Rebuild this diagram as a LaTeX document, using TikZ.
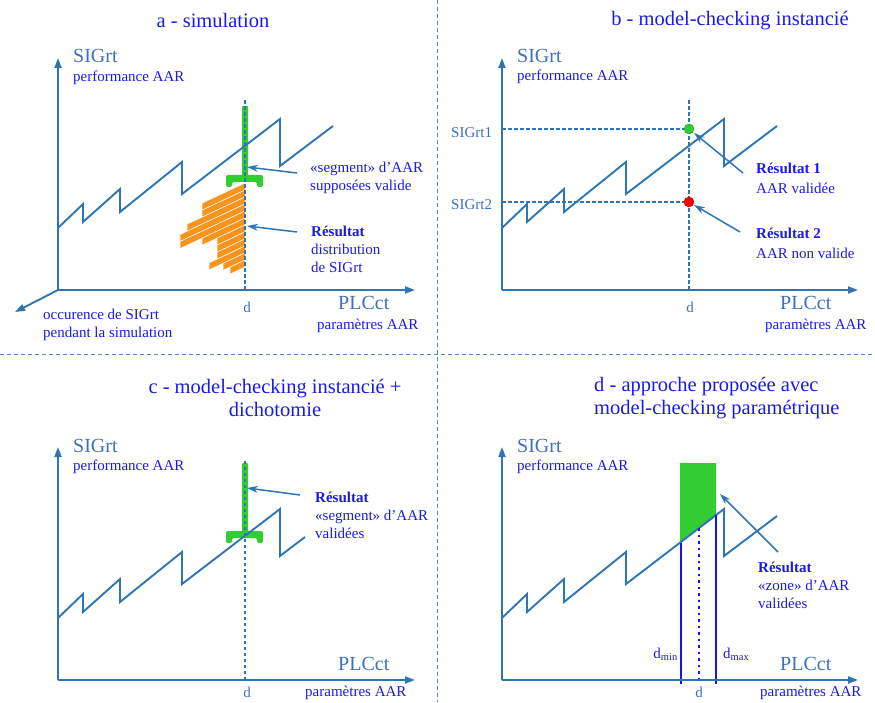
\documentclass[tikz,border=0pt]{standalone}
\usepackage{fontspec}
\setmainfont{Liberation Serif}
\usetikzlibrary{arrows.meta}
\definecolor{axisblue}{RGB}{46,117,182}
\definecolor{labelblue}{RGB}{62,112,190}
\definecolor{textblue}{RGB}{25,25,235}
\definecolor{sepblue}{RGB}{80,140,210}
\definecolor{okgreen}{RGB}{50,205,50}
\definecolor{historange}{RGB}{247,148,29}
\definecolor{dblue}{RGB}{20,20,245}
\tikzset{
  axis/.style={axisblue, line width=1.9pt, -{Triangle[length=10pt,width=7pt]}},
  curve/.style={axisblue, line width=1.9pt},
  guide/.style={axisblue, line width=1.2pt, dash pattern=on 3.5pt off 2.5pt},
  sep/.style={sepblue, line width=1pt, dash pattern=on 4pt off 3pt},
  callout/.style={axisblue, line width=1.5pt, -{Stealth[length=11pt,width=7pt]}},
  big/.style={labelblue, font=\fontsize{20}{22}\selectfont, inner sep=0pt},
  small/.style={textblue, font=\fontsize{15}{18}\selectfont, inner sep=0pt, align=left},
  tick/.style={labelblue, font=\fontsize{15}{17}\selectfont, inner sep=0pt},
  title/.style={textblue, font=\fontsize{20.5}{22.5}\selectfont, inner sep=0pt},
  dbound/.style={dblue, line width=2pt},
}
\begin{document}
\begin{tikzpicture}[x=1pt,y=1pt]
\useasboundingbox (0,0) rectangle (875,702);
% separators
\coordinate (vtop) at (437,702);
\coordinate (vbot) at (437,0);
\coordinate (hleft) at (0,347);
\coordinate (hright) at (875,347);
\draw[sep] (vtop) -- (vbot);
\draw[sep] (hleft) -- (hright);
% a - simulation
\node[title] (titA) at (213,682) {a - simulation};
\scope[shift={(58,412)}]
\coordinate (oA) at (0,0);
\coordinate (yA) at (0,232);
\coordinate (xA) at (357,0);
\coordinate (zA) at (-43,-22);
\foreach \k/\L in {0/43,1/43,2/58,3/65,4/65,5/43,6/28,7/28,8/28,9/36,10/22,11/15}
  \fill[historange, draw=white, line width=0.5pt] (187,107-7*\k) -- ++(0,-7) -- ++(-\L,-0.47*\L) -- ++(0,7) -- cycle;
\fill[okgreen, rounded corners=1pt] (184,112) rectangle (190,184);
\fill[okgreen, rounded corners=2pt] (168,115) -- (205,115) -- (205,103) -- (199,103) -- (199,108)
   -- (174,108) -- (174,103) -- (168,103) -- cycle;
\draw[curve] (0,62) -- (25,86) -- (25,68) -- (62,101) -- (62,78) -- (124,128) -- (124,96)
   -- (222,171) -- (222,124) -- (275,164);
\draw[guide] (187,0) -- (187,190);
\draw[axis] (oA) -- (yA);
\draw[axis] (oA) -- (xA);
\draw[axis] (oA) -- (zA);
\node[big, anchor=west] (sigA) at (15,234) {SIGrt};
\node[small, anchor=west] (perfA) at (15,212) {performance AAR};
\node[big, anchor=west] (plcA) at (280,-13) {PLCct};
\node[small, anchor=west] (parA) at (259,-36) {paramètres AAR};
\node[tick] (dA) at (189,-17) {d};
\node[small, anchor=west] (occA) at (-15,-34.5) {occurence de SIGrt\\pendant la simulation};
\node[small, anchor=west] (segA) at (252,112.5) {«segment» d’AAR\\supposées valide};
\node[small, anchor=west] (resA) at (253,41) {\textbf{Résultat}\\distribution\\de SIGrt};
\coordinate (segTail) at (239,117);
\coordinate (segTip) at (189,123);
\coordinate (resTail) at (239,58);
\coordinate (resTip) at (189,64);
\draw[callout] (segTail) -- (segTip);
\draw[callout] (resTail) -- (resTip);
\endscope
% b - model-checking instancie
\node[title] (titB) at (730,681) {b - model-checking instancié};
\scope[shift={(502,412)}]
\coordinate (oB) at (0,0);
\coordinate (yB) at (0,232);
\coordinate (xB) at (356,0);
\draw[curve] (0,62) -- (25,86) -- (25,68) -- (62,101) -- (62,78) -- (124,128) -- (124,96)
   -- (222,171) -- (222,124) -- (275,164);
\draw[guide] (187,0) -- (187,190);
\draw[guide] (0,161) -- (187,161);
\draw[guide] (0,88) -- (187,88);
\draw[axis] (oB) -- (yB);
\draw[axis] (oB) -- (xB);
\node[circle, fill=okgreen, draw=okgreen!75!black, line width=0.4pt, minimum size=10pt, inner sep=0pt] (ok) at (187,161) {};
\node[circle, fill=red, draw=red!75!black, line width=0.4pt, minimum size=10pt, inner sep=0pt] (ko) at (187,88) {};
\node[tick, anchor=west] (sig1) at (-51,157) {SIGrt1};
\node[tick, anchor=west] (sig2) at (-51,85) {SIGrt2};
\node[big, anchor=west] (sigB) at (15,234) {SIGrt};
\node[small, anchor=west] (perfB) at (15,213) {performance AAR};
\node[big, anchor=west] (plcB) at (278,-13) {PLCct};
\node[small, anchor=west] (parB) at (263,-36) {paramètres AAR};
\node[tick] (dB) at (188,-17) {d};
\node[small, anchor=west] (res1) at (254,112) {\textbf{Résultat 1}\\[2pt]AAR validée};
\node[small, anchor=west] (res2) at (254,47) {\textbf{Résultat 2}\\[2pt]AAR non valide};
\coordinate (okTail) at (241,117);
\coordinate (okTip) at (192,157);
\coordinate (koTail) at (238,58);
\coordinate (koTip) at (192,85);
\draw[callout] (okTail) -- (okTip);
\draw[callout] (koTail) -- (koTip);
\endscope
% c - model-checking instancie + dichotomie
\node[title, align=center] (titC) at (275,304) {c - model-checking instancié +\\dichotomie};
\scope[shift={(58,22)}]
\coordinate (oC) at (0,0);
\coordinate (yC) at (0,233);
\coordinate (xC) at (357,0);
\fill[okgreen, rounded corners=1pt] (184,146) rectangle (190,217);
\fill[okgreen, rounded corners=2pt] (168,149) -- (205,149) -- (205,137) -- (199,137) -- (199,142)
   -- (174,142) -- (174,137) -- (168,137) -- cycle;
\draw[curve] (0,62) -- (25,86) -- (25,68) -- (62,101) -- (62,78) -- (124,128) -- (124,96)
   -- (222,171) -- (222,124) -- (247,143);
\draw[guide] (187,0) -- (187,220);
\draw[axis] (oC) -- (yC);
\draw[axis] (oC) -- (xC);
\node[big, anchor=west] (sigC) at (15,234) {SIGrt};
\node[small, anchor=west] (perfC) at (15,213) {performance AAR};
\node[big, anchor=west] (plcC) at (280,16) {PLCct};
\node[small, anchor=west] (parC) at (247,-13) {paramètres AAR};
\node[tick] (dC) at (189,-12) {d};
\node[small, anchor=west] (resC) at (257,165) {\textbf{Résultat}\\«segment» d’AAR\\validées};
\coordinate (dichoTail) at (242,185);
\coordinate (dichoTip) at (189,192);
\draw[callout] (dichoTail) -- (dichoTip);
\endscope
% d - approche parametrique
\node[title, align=left, anchor=west] (titD) at (594,304) {d - approche proposée avec\\model-checking paramétrique};
\scope[shift={(502,22)}]
\coordinate (oD) at (0,0);
\coordinate (yD) at (0,233);
\coordinate (xD) at (356,0);
\fill[okgreen] (178,217) -- (214,217) -- (214,165) -- (178,137.5) -- cycle;
\draw[curve] (0,62) -- (25,86) -- (25,68) -- (62,101) -- (62,78) -- (124,128) -- (124,96)
   -- (222,171) -- (222,124) -- (275,164);
\draw[dbound] (179,137) -- (179,-4);
\draw[dbound] (214,165) -- (214,-4);
\draw[dblue, line width=2pt, dash pattern=on 2.5pt off 4pt] (197,152) -- (197,0);
\draw[axis] (oD) -- (yD);
\draw[axis] (oD) -- (xD);
\node[big, anchor=west] (sigD) at (15,234) {SIGrt};
\node[small, anchor=west] (perfD) at (15,213) {performance AAR};
\node[big, anchor=west] (plcD) at (278,16) {PLCct};
\node[small, anchor=west] (parD) at (258,-13) {paramètres AAR};
\node[tick] (dD) at (197,-12) {d};
\node[small, anchor=east] (dmin) at (176,26) {d\textsubscript{min}};
\node[small, anchor=west] (dmax) at (221,26) {d\textsubscript{max}};
\node[small, anchor=west] (resD) at (256,95) {\textbf{Résultat}\\«zone» d’AAR\\validées};
\coordinate (zoneTail) at (276,128);
\coordinate (zoneTip) at (218,186);
\draw[callout] (zoneTail) -- (zoneTip);
\endscope
\end{tikzpicture}
\end{document}
